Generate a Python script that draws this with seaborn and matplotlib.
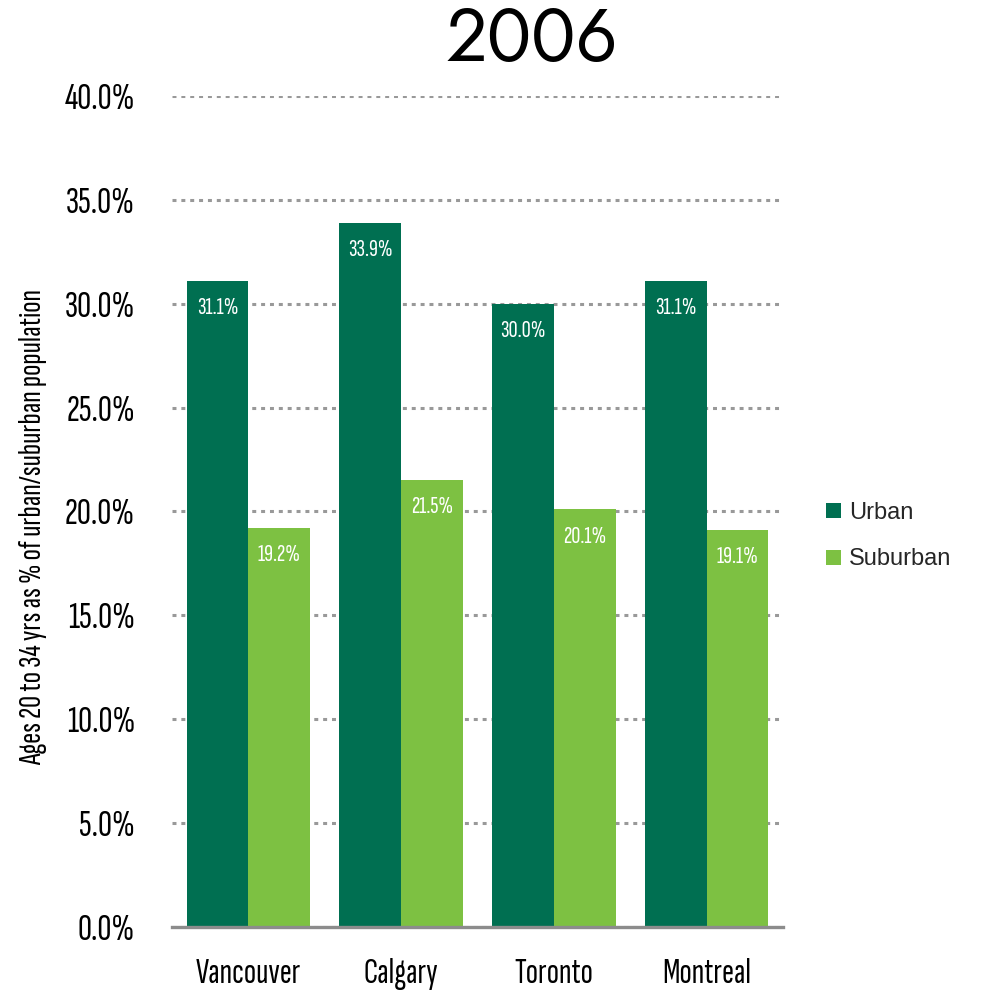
import matplotlib
matplotlib.use("Agg")
import matplotlib.pyplot as plt
import seaborn as sns
import pandas as pd

cities = ["Vancouver", "Calgary", "Toronto", "Montreal"]
groups = ["Urban", "Suburban"]
urban = [31.1, 33.9, 30.0, 31.1]
suburban = [19.2, 21.5, 20.1, 19.1]
yticks = [0, 5, 10, 15, 20, 25, 30, 35, 40]
ylabel = "Ages 20 to 34 yrs as % of urban/suburban population"
title = "2006"

sns.set_theme(style="white")
COND = "Sofia Sans Extra Condensed"
plt.rcParams["font.family"] = [COND, "DejaVu Sans"]

df = pd.DataFrame({
    "city": cities * 2,
    "group": [groups[0]] * len(cities) + [groups[1]] * len(cities),
    "value": urban + suburban,
})

dark = "#006F51"
light = "#7DC142"

fig = plt.figure(figsize=(9.82, 9.96), dpi=100)
ax = fig.add_axes([172 / 982, 1 - 927 / 996, (783 - 172) / 982, (927 - 96) / 996])

sns.barplot(data=df, x="city", y="value", hue="group", order=cities,
            hue_order=groups, palette=[dark, light], saturation=1,
            width=0.81, ax=ax, errorbar=None, linewidth=0, zorder=3)

ax.set_xlim(-0.5, len(cities) - 0.5)
ax.set_ylim(0, 40)
ax.set_yticks(yticks)
ax.set_yticklabels([f"{v:.1f}%" for v in yticks], fontsize=28,
                   fontfamily=COND, fontweight=700)
ax.set_xticks(range(len(cities)))
ax.set_xticklabels(cities, fontsize=26, fontfamily=COND, fontweight=700)
ax.tick_params(axis="y", length=0, pad=26.5, colors="black")
ax.tick_params(axis="x", length=0, pad=22.5, colors="black")

ax.yaxis.grid(True, linestyle=(0, (1.3, 1.6)), color="#999999", linewidth=2.2, zorder=0)
ax.xaxis.grid(False)
for side in ["top", "left", "right"]:
    ax.spines[side].set_visible(False)
ax.spines["bottom"].set_color("#8c8c8c")
ax.spines["bottom"].set_linewidth(2.4)
ax.spines["bottom"].set_zorder(4)

ax.set_xlabel("")
ax.set_ylabel(ylabel, fontsize=18, fontfamily=COND, color="black")
ax.yaxis.set_label_coords(-(172 - 47) / 611, (927 - 527) / 831)

# scale the axis title so it spans the same height as the value range it describes
fig.canvas.draw()
renderer = fig.canvas.get_renderer()
span = ax.yaxis.label.get_window_extent(renderer).height
ax.yaxis.label.set_fontsize(18 * 475 / span)

# value labels inside the top of each bar
for container, vals in zip(ax.containers, [urban, suburban]):
    for patch, v in zip(container.patches, vals):
        ax.annotate(f"{v:.1f}%", (patch.get_x() + patch.get_width() / 2, v),
                    xytext=(0, -19.5), textcoords="offset points",
                    ha="center", va="center", color="white",
                    fontsize=18, fontfamily=COND, zorder=5)

handles, labels = ax.get_legend_handles_labels()
ax.legend(handles, labels, loc="center left",
          bbox_to_anchor=((817 - 172) / 611, (927 - 536) / 831),
          frameon=False, prop={"family": "Liberation Sans", "size": 17},
          handlelength=0.6, handleheight=0.6, handletextpad=0.35,
          labelspacing=1.05, borderaxespad=0)

fig.text(532 / 982, 1 - 61 / 996, title, ha="center", va="baseline",
         fontsize=53, fontfamily="Jost", color="black")

fig.savefig("out.png", dpi=100)
